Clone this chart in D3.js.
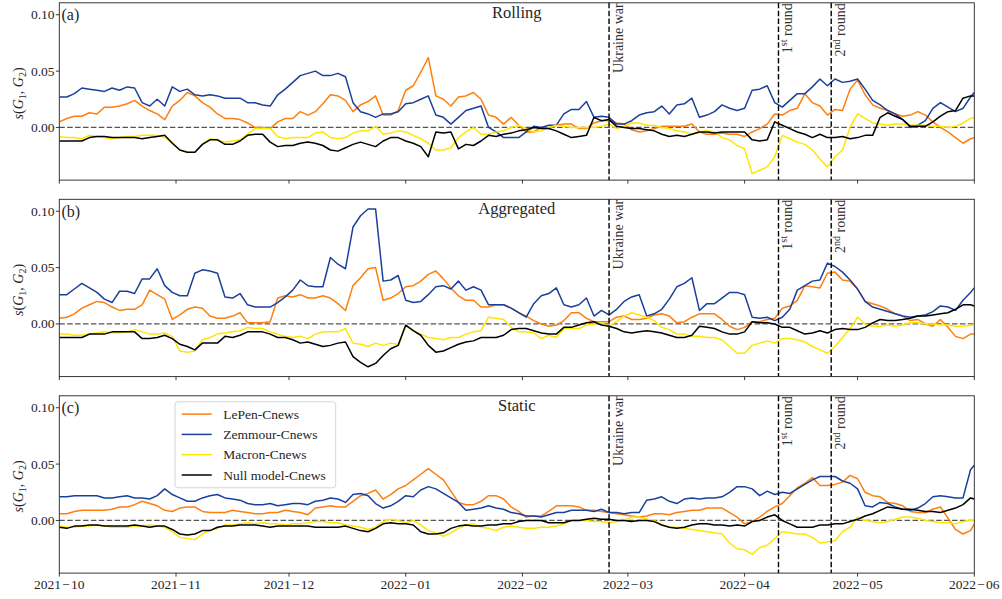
<!DOCTYPE html>
<html><head><meta charset="utf-8">
<script src="https://cdn.jsdelivr.net/npm/d3@7"></script>
<style>
body{margin:0;background:#fff}
svg{display:block}
text{font-family:"Liberation Serif","DejaVu Serif",serif;fill:#262626}
</style>
</head><body>
<svg id="chart" width="1002" height="599"></svg>
<script>
// ---------- data ----------
const startDate = new Date(Date.UTC(2021, 9, 1));
const endDate = new Date(Date.UTC(2022, 5, 1));
const dayOffsets = [...d3.range(0, 243, 2), 243];           // sample days since 2021-10-01
const monthTicks = ["2021-10","2021-11","2021-12","2022-01","2022-02","2022-03","2022-04","2022-05","2022-06"];
const yTicks = [0, 0.05, 0.10];
const panelTitles = ["Rolling", "Aggregated", "Static"];
const panelLetters = ["(a)", "(b)", "(c)"];
const seriesNames = ["LePen-Cnews", "Zemmour-Cnews", "Macron-Cnews", "Null model-Cnews"];
const seriesColors = ["#ff7f0e", "#1b409c", "#ffe600", "#000000"];
const eventDates = ["2022-02-24", "2022-04-10", "2022-04-24"];
const eventLabels = [["Ukraine war"], ["1", "st", " round"], ["2", "nd", " round"]];

// values in thousandths of s(G1,G2)
const rollingLePen = [5,8,10,10,13,12,18,18,19,21, 24,19,15,12,7,19,24,31,28,22, 18,12,8,8,7,4,0,0,-1,5, 8,8,14,11,14,21,29,28,24,14, 20,23,28,11,11,15,33,37,49,62, 28,25,19,27,28,31,25,11,9,3, 9,2,-4,-4,0,-1,2,3,3,-1, -1,4,6,6,4,3,-2,-4,-3,-1, 1,1,1,1,3,-4,-6,-6,-5,-6, -6,-8,-4,-1,3,12,11,15,17,30, 22,19,11,16,15,34,42,29,20,17, 15,12,10,11,14,11,5,0,-4,-9, -14,-10,-9].map(v => v / 1000);
const rollingZemmour = [27,27,30,35,34,33,32,35,33,36, 35,22,19,25,19,36,32,34,29,28, 29,28,26,26,26,22,22,20,19,29, 34,40,46,48,50,46,46,48,45,22, 14,12,9,12,12,14,21,22,25,28, 11,9,3,9,15,17,19,0,-4,-9, -9,-9,-4,1,0,2,2,12,16,16, 23,9,10,9,3,3,6,11,13,14, 19,12,20,21,26,9,11,14,20,17, 15,17,33,34,37,22,18,24,30,30, 36,43,37,43,40,41,43,34,24,20, 15,12,7,0,2,6,17,22,18,14, 17,27,31].map(v => v / 1000);
const rollingMacron = [-8,-9,-9,-10,-7,-8,-9,-10,-9,-8, -8,-7,-7,-7,-9,-13,-20,-22,-22,-15, -10,-11,-13,-12,-11,-6,-1,-1,-1,-8, -10,-9,-9,-9,-5,-4,-9,-10,-9,-5, -3,-3,1,-6,-5,-3,-4,-7,-10,-14, -20,-20,-18,-9,-4,0,-6,-6,-4,-3, 0,2,-1,-4,-3,0,2,1,0,0, 0,0,1,3,-1,1,4,4,2,2, 0,-1,-3,-4,-6,-4,-3,-4,-9,-11, -16,-19,-41,-38,-35,-26,-7,-10,-13,-15, -20,-28,-35,-26,-20,0,12,8,4,3, 2,3,3,2,2,2,1,1,0,1, 4,8,9].map(v => v / 1000);
const rollingNull = [-12,-12,-12,-12,-9,-8,-8,-9,-9,-9, -9,-10,-9,-8,-7,-14,-20,-22,-22,-15, -11,-11,-15,-15,-12,-7,-6,-6,-13,-17, -16,-16,-14,-13,-14,-16,-20,-21,-18,-15, -13,-15,-17,-12,-9,-9,-12,-14,-17,-26, -4,-5,-4,-19,-15,-16,-12,-7,-8,-6, -5,-3,-2,0,-1,-1,-3,-6,-9,-8, -7,9,6,7,1,0,-1,-1,-2,-3, -6,-8,-7,-8,-6,-4,-4,-5,-4,-4, -4,-4,-11,-12,-11,5,2,-1,-4,-6, -9,-6,-9,-9,-8,-10,-9,-7,-7,9, 13,10,7,1,1,1,5,10,14,15, 26,28,28].map(v => v / 1000);

const aggregatedLePen = [5,6,9,14,17,20,19,15,12,13, 13,17,30,26,22,4,8,13,15,14, 7,5,5,7,10,1,1,1,2,23, 25,24,26,23,23,25,23,18,12,34, 41,49,50,21,23,27,33,34,38,44, 47,40,32,25,21,21,15,15,17,17, 14,10,7,3,0,-2,-1,3,10,10, 5,2,2,2,6,7,4,4,5,8, 9,7,1,2,6,9,9,9,4,-2, -5,-3,2,2,4,5,14,16,21,34, 33,32,45,46,39,38,31,20,18,16, 13,9,7,3,4,0,-2,4,-3,-11, -13,-9,-9].map(v => v / 1000);
const aggregatedZemmour = [26,26,31,36,32,28,22,19,29,29, 27,40,40,49,34,28,25,25,45,48, 47,45,24,23,27,17,15,15,15,19, 24,30,39,34,33,33,59,53,49,86, 96,102,102,38,39,43,21,19,20,26, 33,34,31,38,30,33,30,17,17,17, 14,10,6,18,25,27,32,17,15,17, 23,7,12,8,13,20,24,26,7,9, 13,22,33,36,41,12,18,18,23,28, 28,26,6,5,6,3,6,13,30,34, 38,39,54,51,46,39,31,20,15,13, 11,9,7,6,7,8,11,16,15,12, 21,28,32].map(v => v / 1000);
const aggregatedMacron = [-9,-9,-10,-10,-9,-8,-7,-8,-8,-7, -5,-7,-9,-9,-8,-11,-24,-25,-24,-14, -12,-9,-8,-7,-6,-3,-4,-4,-7,-9, -11,-12,-11,-13,-9,-7,-7,-7,-4,-17, -18,-20,-17,-19,-17,-18,-2,-6,-9,-12, -13,-14,-12,-12,-9,-7,-6,6,5,4, -3,-7,-7,-8,-13,-10,-12,-4,-4,-4, -1,0,1,-2,2,7,10,8,6,3, -3,-5,-9,-9,-11,-11,-12,-12,-14,-20, -26,-26,-19,-17,-15,-17,-13,-13,-14,-16, -20,-23,-26,-20,-12,-4,6,0,-2,-2, -1,-2,-1,1,1,0,0,-1,-1,-2, -2,-1,-1].map(v => v / 1000);
const aggregatedNull = [-12,-12,-12,-12,-9,-9,-9,-7,-7,-7, -7,-13,-13,-12,-10,-13,-18,-20,-23,-17, -17,-17,-11,-12,-10,-7,-7,-7,-9,-12, -12,-14,-17,-16,-18,-20,-19,-17,-16,-29, -34,-38,-35,-28,-22,-19,-1,-6,-10,-19, -25,-24,-21,-18,-16,-15,-12,-12,-12,-10, -5,-4,-4,-6,-8,-9,-9,-3,-3,-1, 1,2,-1,-2,-4,-7,-8,-7,-6,-7, -8,-10,-12,-12,-10,-2,-3,-4,-7,-9, -9,-7,2,1,1,0,-3,-3,-6,-9, -8,-6,-8,-5,-4,-5,-5,-3,1,4, 3,3,4,5,7,7,8,9,10,13, 17,17,16].map(v => v / 1000);

const staticLePen = [6,6,8,9,9,9,9,10,12,12, 14,17,15,13,9,8,11,12,12,8, 7,7,7,9,8,7,6,6,7,7, 9,8,7,5,11,12,13,12,12,17, 22,24,27,19,23,28,31,36,41,46, 41,36,26,16,14,14,17,22,22,19, 12,8,3,4,4,8,13,13,13,12, 9,9,8,7,6,5,4,3,4,6, 6,5,7,8,9,9,11,11,11,7, 3,-3,-1,3,8,12,15,22,29,33, 38,31,31,32,34,40,37,25,22,21, 16,15,13,8,7,7,10,12,2,-8, -12,-9,-3].map(v => v / 1000);
const staticZemmour = [21,21,22,22,22,22,20,20,21,22, 20,20,19,22,28,23,20,17,17,20, 22,23,20,19,18,15,14,14,15,13, 14,15,15,14,17,18,20,19,16,23, 24,22,15,11,13,17,22,21,27,30, 28,24,20,16,9,10,11,13,11,10, 7,6,4,4,3,5,7,7,9,9, 9,8,10,7,7,6,7,7,18,19, 21,17,15,19,20,19,20,20,21,25, 30,30,28,22,26,23,25,24,28,32, 36,39,39,39,35,33,28,13,12,16, 15,12,10,9,11,15,21,22,21,20, 20,45,49].map(v => v / 1000);
const staticMacron = [-5,-6,-6,-5,-5,-4,-5,-6,-6,-6, -5,-5,-4,-5,-6,-10,-15,-16,-17,-12, -9,-7,-4,-4,-3,-2,-3,-2,-3,-3, -4,-3,-3,-2,-1,-1,-2,-2,-4,-5, -6,-8,-6,-1,1,0,-2,0,-4,-9, -11,-14,-11,-7,-4,-3,-6,-7,-9,-6, -5,-6,-7,-7,-6,-6,-5,-3,0,0, 0,-1,-1,-2,-1,0,3,3,1,0, -4,-6,-6,-7,-8,-9,-10,-11,-12,-20, -25,-26,-30,-24,-22,-16,-10,-11,-12,-12, -15,-20,-19,-18,-10,-6,3,0,-1,-2, -1,1,3,3,2,0,-1,-2,-2,-3, -1,0,0].map(v => v / 1000);
const staticNull = [-6,-7,-5,-5,-4,-4,-5,-5,-5,-5, -4,-5,-6,-5,-5,-8,-12,-13,-12,-9, -9,-6,-5,-5,-4,-4,-4,-5,-6,-5, -5,-5,-5,-5,-6,-6,-6,-6,-5,-7, -9,-10,-7,-3,-2,-3,-3,-4,-10,-12, -12,-11,-7,-5,-4,-5,-5,-4,-4,-3, -3,-1,0,0,0,-2,-2,-2,0,0, 1,2,1,1,0,0,-1,0,0,-1, -4,-6,-7,-6,-4,-3,-3,-4,-4,-5, -4,-5,-1,0,3,5,0,-3,-6,-6, -6,-4,-4,-3,-3,-1,1,4,6,9, 12,11,10,10,9,8,8,7,9,11, 14,20,19].map(v => v / 1000);

const panelSeries = [
  [rollingLePen, rollingZemmour, rollingMacron, rollingNull],
  [aggregatedLePen, aggregatedZemmour, aggregatedMacron, aggregatedNull],
  [staticLePen, staticZemmour, staticMacron, staticNull]
];

// ---------- layout ----------
const svg = d3.select("#chart");
const X0 = 59.3, X1 = 974.3, PANEL_H = 177.3, PANEL_STEP = 196.5, TOP0 = 2.8;
const parseDay = d3.utcParse("%Y-%m-%d");
const parseMonth = d3.utcParse("%Y-%m");
const dates = dayOffsets.map(d => d3.utcDay.offset(startDate, d));
const x = d3.scaleUtc().domain([startDate, endDate]).range([X0, X1]);
const fmtTick = d => d3.utcFormat("%Y")(d) + "\u200A\u2212\u200A" + d3.utcFormat("%m")(d);

svg.append("defs").selectAll("clipPath").data([0,1,2]).join("clipPath")
  .attr("id", i => "clip" + i)
  .append("rect").attr("x", X0).attr("width", X1 - X0)
  .attr("y", i => TOP0 + i * PANEL_STEP).attr("height", PANEL_H);

panelSeries.forEach((series, p) => {
  const top = TOP0 + p * PANEL_STEP, bottom = top + PANEL_H;
  const y = d3.scaleLinear().domain([-0.0467, 0.1106]).range([bottom, top]);
  const g = svg.append("g");

  // zero line
  g.append("line").attr("x1", X0).attr("x2", X1).attr("y1", y(0)).attr("y2", y(0))
    .attr("stroke", "#555").attr("stroke-width", 1.2).attr("stroke-dasharray", "5.5,2.4");

  // series
  const line = d3.line().x((d, i) => x(dates[i])).y(d => y(d));
  const sg = g.append("g").attr("clip-path", `url(#clip${p})`);
  series.forEach((vals, k) => {
    sg.append("path").datum(vals).attr("d", line).attr("fill", "none")
      .attr("stroke", seriesColors[k]).attr("stroke-width", 1.5)
      .attr("stroke-linejoin", "round");
  });

  // event lines + labels
  eventDates.forEach((ed, e) => {
    const ex = x(parseDay(ed));
    g.append("line").attr("x1", ex).attr("x2", ex).attr("y1", top).attr("y2", bottom)
      .attr("stroke", "#000").attr("stroke-width", 1.4).attr("stroke-dasharray", "5.5,2.4");
    const t = g.append("text").attr("transform", `translate(${ex + 14},${top + 0.5}) rotate(-90)`)
      .attr("text-anchor", "end").style("font-size", "14px").style("fill", "#333");
    const parts = eventLabels[e];
    if (parts.length === 1) t.text(parts[0]);
    else {
      t.append("tspan").text(parts[0]);
      t.append("tspan").attr("dy", -5).style("font-size", "10px").text(parts[1]);
      t.append("tspan").attr("dy", 5).text(parts[2]);
    }
  });

  // frame
  g.append("rect").attr("x", X0).attr("y", top).attr("width", X1 - X0).attr("height", PANEL_H)
    .attr("fill", "none").attr("stroke", "#222").attr("stroke-width", 0.9);

  // x ticks
  const mt = monthTicks.map(parseMonth);
  g.selectAll(".xt").data(mt).join("line")
    .attr("x1", d => x(d)).attr("x2", d => x(d)).attr("y1", bottom).attr("y2", bottom + 3.5)
    .attr("stroke", "#222").attr("stroke-width", 0.9);
  if (p === 2) {
    g.selectAll(".xl").data(mt).join("text")
      .attr("x", d => x(d)).attr("y", 589).attr("text-anchor", "middle")
      .style("font-size", "13.5px").text(fmtTick);
  }
  // y ticks
  g.selectAll(".yt").data(yTicks).join("line")
    .attr("x1", X0 - 3.5).attr("x2", X0).attr("y1", d => y(d)).attr("y2", d => y(d))
    .attr("stroke", "#222").attr("stroke-width", 0.9);
  g.selectAll(".yl").data(yTicks).join("text")
    .attr("x", 54.5).attr("y", d => y(d) + 4.5).attr("text-anchor", "end")
    .style("font-size", "13.5px").text(d => d3.format(".2f")(d));

  // y label s(G1, G2)
  const yl = g.append("text").attr("transform", `translate(23,${(top + bottom) / 2 + 2}) rotate(-90)`)
    .attr("text-anchor", "middle").style("font-size", "14px");
  yl.append("tspan").style("font-style", "italic").text("s");
  yl.append("tspan").text("(");
  yl.append("tspan").style("font-style", "italic").text("G");
  yl.append("tspan").attr("dy", 3).style("font-size", "10px").text("1");
  yl.append("tspan").attr("dy", -3).text(", ");
  yl.append("tspan").style("font-style", "italic").text("G");
  yl.append("tspan").attr("dy", 3).style("font-size", "10px").text("2");
  yl.append("tspan").attr("dy", -3).text(")");

  // panel letter + title
  g.append("text").attr("x", 61.5).attr("y", top + 17.5).style("font-size", "16px").text(panelLetters[p]);
  g.append("text").attr("x", (X0 + X1) / 2).attr("y", top + 15).attr("text-anchor", "middle")
    .style("font-size", "16.5px").text(panelTitles[p]);

  // legend in the last panel
  if (p === 2) {
    const lg = g.append("g");
    lg.append("rect").attr("x", 175).attr("y", top + 6).attr("width", 160.7).attr("height", 86)
      .attr("rx", 3).attr("fill", "#fff").attr("fill-opacity", 0.8)
      .attr("stroke", "#d0d0d0").attr("stroke-width", 0.9);
    seriesNames.forEach((nm, k) => {
      const cy = top + 18.3 + k * 20.3;
      lg.append("line").attr("x1", 181.7).attr("x2", 211.7).attr("y1", cy).attr("y2", cy)
        .attr("stroke", seriesColors[k]).attr("stroke-width", 1.5);
      lg.append("text").attr("x", 223.3).attr("y", cy + 4.6).style("font-size", "13.5px").text(nm);
    });
  }
});
</script>
</body></html>
